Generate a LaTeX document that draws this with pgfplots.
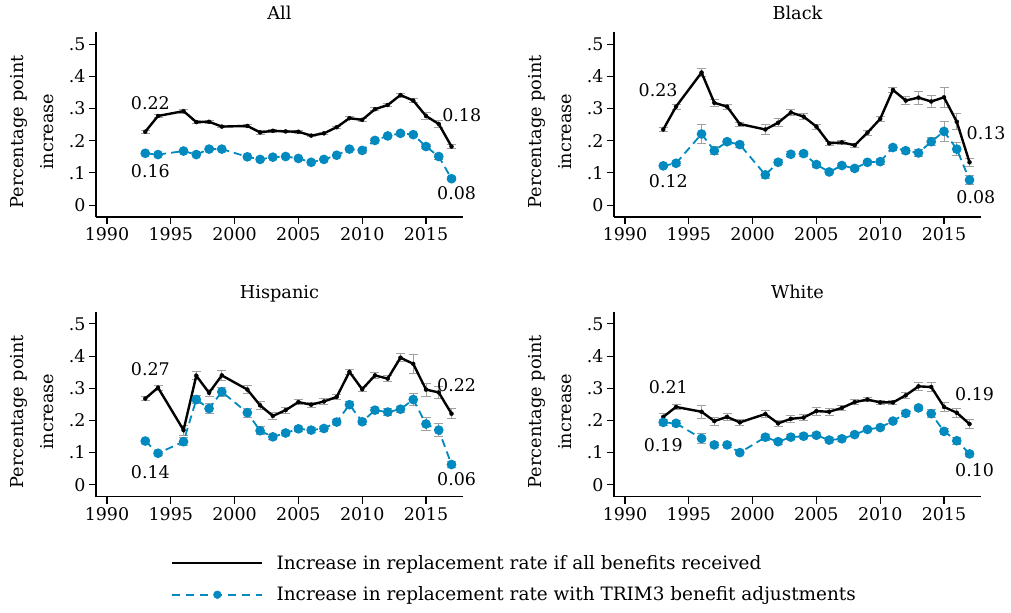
\documentclass[border=0pt]{standalone}
\usepackage{fontspec}
\setmainfont{DejaVu Serif}
\usepackage{pgfplots}
\usepackage{pgfplotstable}
\pgfplotsset{compat=1.18}
\definecolor{trimblue}{RGB}{0,138,192}
\definecolor{errgray}{RGB}{160,160,160}

\pgfplotstableread{
yr b be c ce
1993 .228 .004 .161 .004
1994 .277 .004 .157 .004
1996 .292 .006 .168 .005
1997 .258 .005 .157 .004
1998 .259 .004 .174 .004
1999 .244 .004 .174 .004
2001 .246 .005 .150 .004
2002 .226 .005 .142 .004
2003 .231 .004 .149 .004
2004 .229 .004 .151 .004
2005 .228 .004 .145 .004
2006 .216 .004 .133 .004
2007 .223 .004 .142 .004
2008 .242 .004 .155 .004
2009 .270 .005 .174 .005
2010 .265 .005 .170 .005
2011 .298 .005 .201 .005
2012 .311 .005 .215 .005
2013 .342 .006 .223 .005
2014 .325 .006 .219 .005
2015 .277 .010 .182 .007
2016 .252 .010 .151 .008
2017 .182 .006 .082 .006
}\tall

\pgfplotstableread{
yr b be c ce
1993 .235 .006 .122 .006
1994 .306 .008 .130 .006
1996 .412 .012 .221 .030
1997 .318 .012 .169 .012
1998 .306 .008 .197 .008
1999 .252 .006 .188 .008
2001 .235 .015 .094 .010
2002 .256 .012 .133 .008
2003 .288 .010 .158 .008
2004 .275 .010 .160 .008
2005 .244 .008 .126 .008
2006 .192 .006 .103 .006
2007 .195 .006 .123 .006
2008 .186 .006 .114 .006
2009 .225 .008 .133 .006
2010 .268 .008 .135 .008
2011 .358 .008 .179 .008
2012 .325 .012 .169 .008
2013 .334 .020 .162 .010
2014 .322 .018 .197 .012
2015 .335 .030 .229 .030
2016 .259 .025 .174 .020
2017 .133 .012 .078 .014
}\tblack

\pgfplotstableread{
yr b be c ce
1993 .268 .006 .136 .006
1994 .302 .008 .098 .006
1996 .170 .015 .134 .012
1997 .339 .012 .265 .012
1998 .286 .012 .237 .015
1999 .340 .015 .289 .015
2001 .296 .012 .224 .015
2002 .247 .012 .168 .012
2003 .214 .010 .149 .008
2004 .232 .010 .161 .008
2005 .257 .008 .174 .008
2006 .249 .008 .170 .008
2007 .259 .008 .175 .008
2008 .273 .008 .195 .008
2009 .351 .008 .249 .010
2010 .297 .008 .196 .008
2011 .340 .010 .232 .010
2012 .330 .010 .226 .010
2013 .395 .012 .235 .010
2014 .376 .030 .265 .018
2015 .296 .020 .189 .020
2016 .287 .020 .170 .020
2017 .221 .015 .063 .010
}\this

\pgfplotstableread{
yr b be c ce
1993 .211 .012 .194 .010
1994 .242 .008 .191 .008
1996 .227 .020 .144 .015
1997 .198 .012 .124 .008
1998 .211 .010 .124 .008
1999 .194 .010 .100 .006
2001 .220 .012 .148 .010
2002 .191 .010 .134 .008
2003 .205 .010 .148 .008
2004 .209 .010 .151 .008
2005 .229 .012 .154 .008
2006 .227 .010 .139 .008
2007 .239 .008 .143 .008
2008 .257 .008 .156 .006
2009 .265 .006 .172 .006
2010 .256 .006 .178 .006
2011 .256 .006 .198 .006
2012 .278 .008 .222 .008
2013 .306 .012 .239 .008
2014 .304 .015 .221 .012
2015 .242 .015 .166 .010
2016 .224 .015 .137 .010
2017 .189 .015 .096 .008
}\twhite

\tikzset{lab/.style={font=\fontsize{17.5}{21}\selectfont}}
\pgfplotsset{
  panel/.style={
    scale only axis, width=367bp, height=185bp,
    xmin=1989.14, xmax=2017.9, ymin=-0.037, ymax=0.538,
    axis x line*=bottom, axis y line*=left,
    axis line style={line width=1.3bp, -},
    xtick={1990,1995,2000,2005,2010,2015},
    xticklabels={1990,1995,2000,2005,2010,2015},
    ytick={0,0.1,0.2,0.3,0.4,0.5},
    yticklabels={0,.1,.2,.3,.4,.5},
    tick align=outside, major tick length=7bp,
    tick style={line width=1.1bp, black},
    font=\fontsize{17.5}{21}\selectfont,
    ylabel={Percentage point\\increase},
    ylabel style={align=center, font=\fontsize{17.8}{30}\selectfont,
      at={(axis description cs:-0.174,0.46)}, anchor=center},
    title style={at={(axis description cs:0.5,1)}, anchor=base, yshift=7bp,
      font=\fontsize{17.8}{21}\selectfont},
    clip=false,
  },
  errs/.style={only marks, mark=none, forget plot,
    error bars/.cd, y dir=both, y explicit,
    error bar style={errgray, line width=0.8bp},
    error mark options={errgray, rotate=90, mark size=4.5bp, line width=0.8bp}},
  blk/.style={black, line width=2.4bp, mark=none},
  blu/.style={trimblue, line width=1.8bp, dash pattern=on 8bp off 5bp,
    mark=*, mark size=3.9bp, mark options={solid, fill=trimblue, draw=trimblue}},
}

\begin{document}
\begin{tikzpicture}
\useasboundingbox (0,0) rectangle (1011bp,613bp);

% Panel 1: All
\begin{axis}[panel, at={(96bp,396bp)}, anchor=south west, title={All}]
\addplot[errs] table[x=yr, y=b, y error=be] {\tall};
\addplot[errs] table[x=yr, y=c, y error=ce] {\tall};
\addplot[blk] table[x=yr, y=b] {\tall};
\addplot[blu] table[x=yr, y=c] {\tall};
\node[lab] at (axis cs:1993.4,0.316) {0.22};
\node[lab] at (axis cs:1993.4,0.107) {0.16};
\node[lab] at (axis cs:2017.8,0.280) {0.18};
\node[lab] at (axis cs:2017.4,0.038) {0.08};
\end{axis}

% Panel 2: Black
\begin{axis}[panel, at={(614bp,396bp)}, anchor=south west, title={Black}]
\addplot[errs] table[x=yr, y=b, y error=be] {\tblack};
\addplot[errs] table[x=yr, y=c, y error=ce] {\tblack};
\addplot[blk] table[x=yr, y=b] {\tblack};
\addplot[blu] table[x=yr, y=c] {\tblack};
\node[lab] at (axis cs:1992.6,0.356) {0.23};
\node[lab] at (axis cs:1993.4,0.073) {0.12};
\node[lab] at (axis cs:2018.3,0.223) {0.13};
\node[lab] at (axis cs:2017.5,0.024) {0.08};
\end{axis}

% Panel 3: Hispanic
\begin{axis}[panel, at={(96bp,116.3bp)}, anchor=south west, title={Hispanic}]
\addplot[errs] table[x=yr, y=b, y error=be] {\this};
\addplot[errs] table[x=yr, y=c, y error=ce] {\this};
\addplot[blk] table[x=yr, y=b] {\this};
\addplot[blu] table[x=yr, y=c] {\this};
\node[lab] at (axis cs:1993.4,0.359) {0.27};
\node[lab] at (axis cs:1993.4,0.039) {0.14};
\node[lab] at (axis cs:2017.4,0.309) {0.22};
\node[lab] at (axis cs:2017.4,0.018) {0.06};
\end{axis}

% Panel 4: White
\begin{axis}[panel, at={(614bp,116.3bp)}, anchor=south west, title={White}]
\addplot[errs] table[x=yr, y=b, y error=be] {\twhite};
\addplot[errs] table[x=yr, y=c, y error=ce] {\twhite};
\addplot[blk] table[x=yr, y=b] {\twhite};
\addplot[blu] table[x=yr, y=c] {\twhite};
\node[lab] at (axis cs:1993.4,0.302) {0.21};
\node[lab] at (axis cs:1993.0,0.124) {0.19};
\node[lab] at (axis cs:2017.4,0.282) {0.19};
\node[lab] at (axis cs:2017.4,0.046) {0.10};
\end{axis}

% Legend
\begin{axis}[hide axis, scale only axis, width=1011bp, height=613bp,
  at={(0,0)}, anchor=south west, xmin=0, xmax=1, ymin=0, ymax=1,
  legend cell align=left,
  legend style={draw=none, fill=none, inner sep=0pt, at={(axis cs:0.1691,0.0555)},
    anchor=west, font=\fontsize{18.5}{22}\selectfont,
    row sep=12bp}]
\addlegendimage{legend image code/.code={\draw[black, line width=2.4bp] (0bp,0bp) -- (90bp,0bp); \path (102bp,0bp);}}
\addlegendentry{Increase in replacement rate if all benefits received}
\addlegendimage{legend image code/.code={\draw[trimblue, line width=1.8bp, dash pattern=on 8bp off 6bp] (0bp,0bp) -- (90bp,0bp); \fill[trimblue] (45bp,0bp) circle (3.9bp); \path (102bp,0bp);}}
\addlegendentry{Increase in replacement rate with TRIM3 benefit adjustments}
\end{axis}
\end{tikzpicture}
\end{document}
